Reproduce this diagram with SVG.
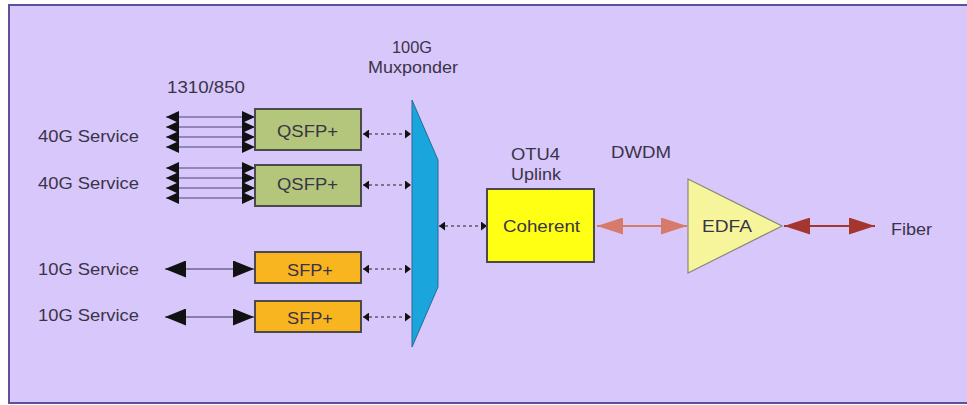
<svg xmlns="http://www.w3.org/2000/svg" width="967" height="405" viewBox="0 0 967 405">
  <defs>
    <!-- small heads on the 4-lane 40G lanes -->
    <marker id="lane" markerUnits="userSpaceOnUse" markerWidth="13" markerHeight="12" refX="13" refY="6" orient="auto-start-reverse">
      <path d="M0,0 L13,6 L0,12 Z" fill="#111"/>
    </marker>
    <!-- 10G service heads -->
    <marker id="svc" markerUnits="userSpaceOnUse" markerWidth="21" markerHeight="17" refX="21" refY="8.5" orient="auto-start-reverse">
      <path d="M0,0 L21,8.5 L0,17 Z" fill="#111"/>
    </marker>
    <!-- small heads on the dashed electrical links -->
    <marker id="tiny" markerUnits="userSpaceOnUse" markerWidth="6" markerHeight="9" refX="6" refY="4.5" orient="auto-start-reverse">
      <path d="M0,0 L6,4.5 L0,9 Z" fill="#111"/>
    </marker>
    <!-- DWDM line heads -->
    <marker id="dwdm" markerUnits="userSpaceOnUse" markerWidth="26" markerHeight="17" refX="26" refY="8.5" orient="auto-start-reverse">
      <path d="M0,0 L26,8.5 L0,17 Z" fill="#d67a6b"/>
    </marker>
    <!-- fiber line heads -->
    <marker id="fiber" markerUnits="userSpaceOnUse" markerWidth="26" markerHeight="17" refX="26" refY="8.5" orient="auto-start-reverse">
      <path d="M0,0 L26,8.5 L0,17 Z" fill="#a5352f"/>
    </marker>
  </defs>
  <style>
    text { font-family: "Liberation Sans", Arial, sans-serif; font-size: 17px; fill: #3a3448; }
    .box { stroke: #4a4a4a; stroke-width: 2; }
    .qsfp { fill: #b4c67b; }
    .sfp { fill: #f8b51f; }
    .lane { stroke: #7a70a0; stroke-width: 1.4; fill: none; marker-start: url(#lane); marker-end: url(#lane); }
    .svc { stroke: #6e6590; stroke-width: 1.6; fill: none; marker-start: url(#svc); marker-end: url(#svc); }
    .dash { stroke: #5a5a6a; stroke-width: 1.3; stroke-dasharray: 3 3; fill: none; marker-start: url(#tiny); marker-end: url(#tiny); }
  </style>

  <!-- panel -->
  <rect x="9" y="5" width="970" height="398" fill="#d8c7fb" stroke="#5d519c" stroke-width="2"/>

  <!-- labels -->
  <g id="labels">
    <text x="38" y="142" textLength="101" lengthAdjust="spacingAndGlyphs">40G Service</text>
    <text x="38" y="189" textLength="101" lengthAdjust="spacingAndGlyphs">40G Service</text>
    <text x="38" y="275" textLength="101" lengthAdjust="spacingAndGlyphs">10G Service</text>
    <text x="38" y="321" textLength="101" lengthAdjust="spacingAndGlyphs">10G Service</text>
    <text x="167" y="93" textLength="78" lengthAdjust="spacingAndGlyphs">1310/850</text>
    <text x="392" y="53" textLength="40" lengthAdjust="spacingAndGlyphs">100G</text>
    <text x="368" y="73" textLength="90" lengthAdjust="spacingAndGlyphs">Muxponder</text>
    <text x="511" y="160" textLength="49" lengthAdjust="spacingAndGlyphs">OTU4</text>
    <text x="511" y="180" textLength="50" lengthAdjust="spacingAndGlyphs">Uplink</text>
    <text x="611" y="158" textLength="60" lengthAdjust="spacingAndGlyphs">DWDM</text>
    <text x="891" y="235" textLength="41" lengthAdjust="spacingAndGlyphs">Fiber</text>
  </g>

  <!-- connectors -->
  <g id="connectors">
    <!-- 40G lanes -->
    <line class="lane" x1="166" y1="117" x2="255" y2="117"/>
    <line class="lane" x1="166" y1="127" x2="255" y2="127"/>
    <line class="lane" x1="166" y1="137" x2="255" y2="137"/>
    <line class="lane" x1="166" y1="147" x2="255" y2="147"/>
    <line class="lane" x1="166" y1="168" x2="255" y2="168"/>
    <line class="lane" x1="166" y1="178" x2="255" y2="178"/>
    <line class="lane" x1="166" y1="188" x2="255" y2="188"/>
    <line class="lane" x1="166" y1="198" x2="255" y2="198"/>
    <!-- 10G services -->
    <line class="svc" x1="165" y1="269" x2="254" y2="269"/>
    <line class="svc" x1="165" y1="317" x2="254" y2="317"/>
    <!-- client modules to muxponder -->
    <line class="dash" x1="363" y1="134" x2="411" y2="134"/>
    <line class="dash" x1="363" y1="185" x2="411" y2="185"/>
    <line class="dash" x1="363" y1="269" x2="411" y2="269"/>
    <line class="dash" x1="363" y1="317" x2="411" y2="317"/>
    <!-- muxponder to coherent line card -->
    <line class="dash" x1="439" y1="226" x2="487" y2="226"/>
    <!-- coherent to amplifier -->
    <line x1="597" y1="226" x2="687" y2="226" stroke="#d67a6b" stroke-width="2" marker-start="url(#dwdm)" marker-end="url(#dwdm)"/>
    <!-- amplifier to fiber -->
    <line x1="784" y1="226" x2="875" y2="226" stroke="#a5352f" stroke-width="2" marker-start="url(#fiber)" marker-end="url(#fiber)"/>
  </g>

  <!-- client modules -->
  <g id="qsfp1">
    <rect class="box qsfp" x="255" y="109" width="106" height="41"/>
    <text x="277" y="137" textLength="61" lengthAdjust="spacingAndGlyphs">QSFP+</text>
  </g>
  <g id="qsfp2">
    <rect class="box qsfp" x="255" y="165" width="106" height="41"/>
    <text x="277" y="190" textLength="61" lengthAdjust="spacingAndGlyphs">QSFP+</text>
  </g>
  <g id="sfp1">
    <rect class="box sfp" x="255" y="252" width="106" height="31"/>
    <text x="287" y="276" textLength="46" lengthAdjust="spacingAndGlyphs">SFP+</text>
  </g>
  <g id="sfp2">
    <rect class="box sfp" x="255" y="301" width="106" height="31"/>
    <text x="287" y="324" textLength="46" lengthAdjust="spacingAndGlyphs">SFP+</text>
  </g>

  <!-- muxponder -->
  <g id="muxponder">
    <polygon points="412,100 438,160 438,287 412,347" fill="#1aa5dd" stroke="#2a6a98" stroke-width="1"/>
  </g>

  <!-- coherent line card -->
  <g id="coherent">
    <rect class="box" x="487" y="189" width="107" height="73" fill="#ffff14"/>
    <text x="503" y="232" textLength="77" lengthAdjust="spacingAndGlyphs">Coherent</text>
  </g>

  <!-- amplifier -->
  <g id="edfa">
    <polygon points="688,179 782,226 688,273" fill="#f7f59c" stroke="#8a8a7a" stroke-width="1.2"/>
    <text x="702" y="232" textLength="50" lengthAdjust="spacingAndGlyphs">EDFA</text>
  </g>
</svg>
